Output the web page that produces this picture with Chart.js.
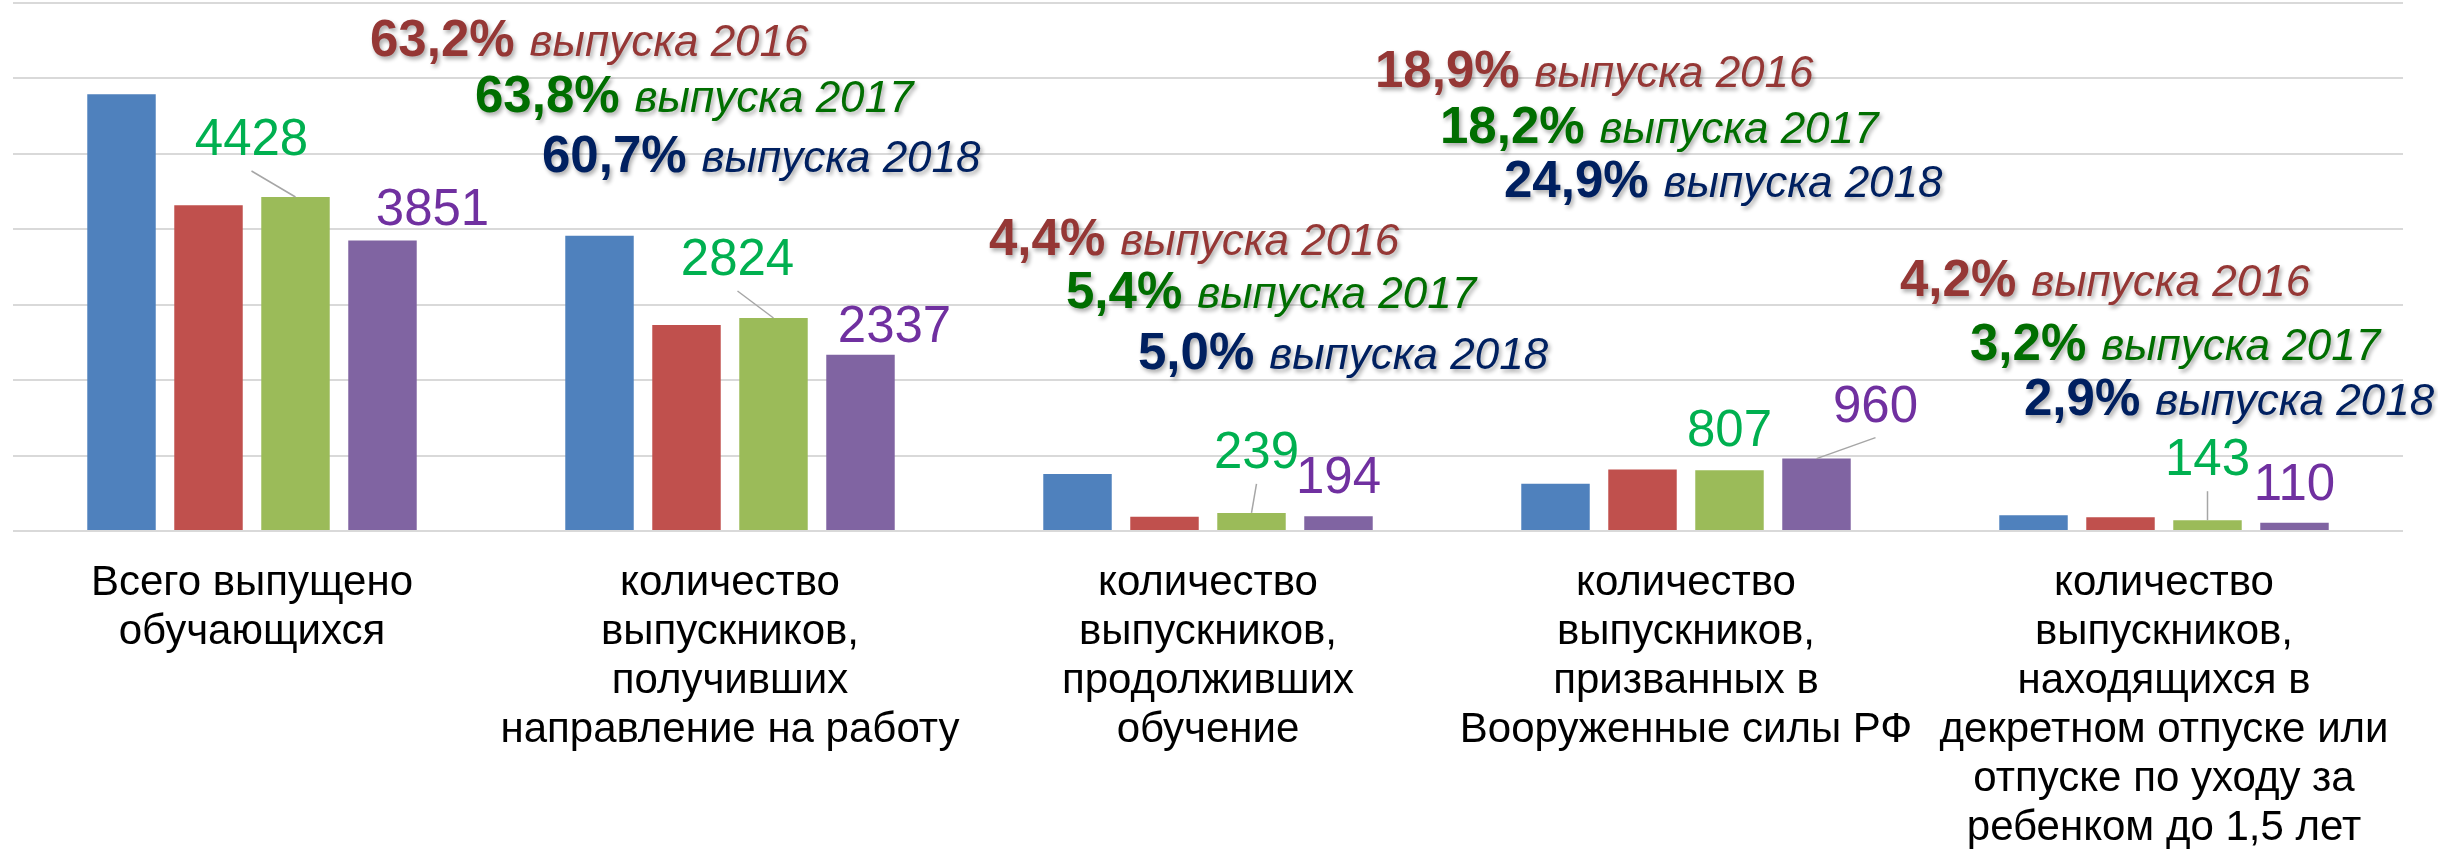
<!DOCTYPE html>
<html><head><meta charset="utf-8">
<script src="https://cdn.jsdelivr.net/npm/chart.js@4.4.1/dist/chart.umd.min.js"></script>
<style>html,body{margin:0;padding:0;background:#fff;overflow:hidden}</style>
</head><body>
<canvas id="c" width="2438" height="849"></canvas>
<script>
// ---- data ----
const categories = [
  ["Всего выпущено", "обучающихся"],
  ["количество", "выпускников,", "получивших", "направление на работу"],
  ["количество", "выпускников,", "продолживших", "обучение"],
  ["количество", "выпускников,", "призванных в", "Вооруженные силы РФ"],
  ["количество", "выпускников,", "находящихся в", "декретном отпуске или", "отпуске по уходу за", "ребенком до 1,5 лет"]
];
const seriesNames = ["2015", "2016", "2017", "2018"];
const values2015 = [5790, 3915, 755, 625, 208];
const values2016 = [4320, 2730, 190, 815, 181];
const values2017 = [4428, 2824, 239, 807, 143];
const values2018 = [3851, 2337, 194, 960, 110];
const yMin = 0, yMax = 7000, yStep = 1000;

const shareCategoryIndex = [1, 2, 3, 4];
const share2016 = ["63,2%", "4,4%", "18,9%", "4,2%"];
const share2017 = ["63,8%", "5,4%", "18,2%", "3,2%"];
const share2018 = ["60,7%", "5,0%", "24,9%", "2,9%"];
const shareText = ["выпуска 2016", "выпуска 2017", "выпуска 2018"];

// ---- layout / style (kept apart from data) ----
const barColors = ["#4F81BD", "#C0504D", "#9BBB59", "#8064A2"];
const labelColors = {2: "#00B050", 3: "#7030A0"};
const shareColors = ["#953735", "#006E00", "#002060"];
// value label offsets [dx, rise of label centre above bar top, leader flag]
const labelOffsets = {
  2: [[-44, 60, 1], [-36, 61, 1], [5, 63, 1], [0, 42, 0], [0, 63, 1]],
  3: [[50, 34, 0], [34, 31, 0], [0, 42, 0], [59, 55, 1], [0, 41, 0]]
};
// share annotation anchors per category: [dx from category centre, y in axis units]
const shareAnchors = [
  [[-360, 6291], [-255, 5559], [-188, 4763]],
  [[-219, 3659], [-142, 2956], [-70, 2148]],
  [[-311, 5886], [-246, 5144], [-182, 4428]],
  [[-264, 3115], [-194, 2267], [-140, 1538]]
];
const FONT = "'Liberation Sans', Arial, sans-serif";
const VALUE_SIZE = 51;

const overlay = {
  id: 'overlay',
  afterDatasetsDraw(chart) {
    const ctx = chart.ctx;
    const xs = chart.scales.x, ys = chart.scales.y;
    // value labels
    [2, 3].forEach(di => {
      const meta = chart.getDatasetMeta(di);
      meta.data.forEach((bar, i) => {
        const off = labelOffsets[di][i];
        const cx = bar.x + off[0];
        const cy = bar.y - off[1];
        if (off[2]) {
          ctx.save();
          ctx.strokeStyle = '#A6A6A6';
          ctx.lineWidth = 1.5;
          ctx.beginPath();
          ctx.moveTo(cx, cy + 34);
          ctx.lineTo(bar.x, bar.y);
          ctx.stroke();
          ctx.restore();
        }
        ctx.save();
        ctx.font = VALUE_SIZE + "px " + FONT;
        ctx.fillStyle = labelColors[di];
        ctx.textAlign = 'center';
        ctx.textBaseline = 'alphabetic';
        ctx.fillText(String(chart.data.datasets[di].data[i]), cx, cy + 0.358 * VALUE_SIZE);
        ctx.restore();
      });
    });
    // share annotations
    const shares = [share2016, share2017, share2018];
    shareCategoryIndex.forEach((ci, k) => {
      const xc = xs.getPixelForValue(ci);
      for (let l = 0; l < 3; l++) {
        const a = shareAnchors[k][l];
        const x = xc + a[0];
        const y = ys.getPixelForValue(a[1]);
        ctx.save();
        ctx.shadowColor = 'rgba(0,0,0,0.33)';
        ctx.shadowOffsetX = 2;
        ctx.shadowOffsetY = 3;
        ctx.shadowBlur = 4;
        ctx.fillStyle = shareColors[l];
        ctx.textAlign = 'left';
        ctx.textBaseline = 'alphabetic';
        ctx.font = "bold 51px " + FONT;
        const t1 = shares[l][k];
        ctx.fillText(t1, x, y);
        const w = ctx.measureText(t1).width;
        ctx.font = "italic 44px " + FONT;
        ctx.fillText(shareText[l], x + w + 15, y);
        ctx.restore();
      }
    });
  }
};

const allValues = [values2015, values2016, values2017, values2018];
new Chart(document.getElementById('c').getContext('2d'), {
  type: 'bar',
  data: {
    labels: categories,
    datasets: allValues.map((v, i) => ({
      label: seriesNames[i], data: v, backgroundColor: barColors[i], borderWidth: 0
    }))
  },
  options: {
    responsive: false, animation: false, devicePixelRatio: 1,
    layout: {padding: {top: 3, left: 13, right: 35, bottom: 0}},
    plugins: {legend: {display: false}, tooltip: {enabled: false}},
    datasets: {bar: {categoryPercentage: 0.728, barPercentage: 0.787}},
    scales: {
      x: {
        grid: {display: false, drawTicks: false},
        border: {display: false},
        ticks: {font: {family: FONT, size: 42, lineHeight: 1.167}, color: '#000', padding: 28, maxRotation: 0, minRotation: 0, autoSkip: false},
        afterFit(s) { s.height = 318; }
      },
      y: {
        min: yMin, max: yMax,
        ticks: {display: false, stepSize: yStep},
        grid: {color: '#D9D9D9', lineWidth: 2, drawTicks: false},
        border: {display: false}
      }
    }
  },
  plugins: [overlay]
});
</script>
</body></html>
